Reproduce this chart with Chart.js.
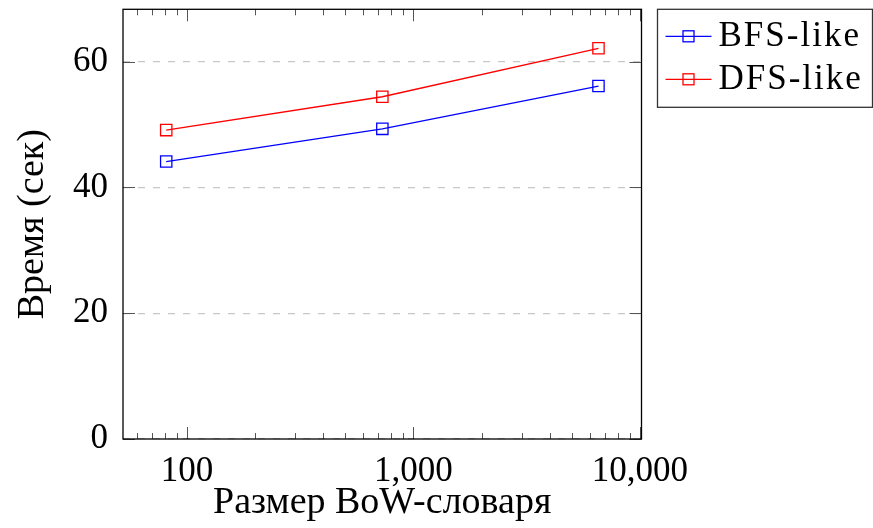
<!DOCTYPE html>
<html>
<head>
<meta charset="utf-8">
<script src="https://cdn.jsdelivr.net/npm/chart.js@4"></script>
<style>body{margin:0;background:#fff}</style>
</head>
<body>
<canvas id="myGraph" width="873" height="528"></canvas>
<script>
// Run time vs BoW vocabulary size

var vocabSizes = [81, 729, 6561];
var bfsTimes = [44.1, 49.3, 56.1];
var dfsTimes = [49.1, 54.4, 62.1];
var seriesNames = ["BFS-like", "DFS-like"];
var seriesColors = ["#0000ff", "#ff0000"];
var xTickValues = [100, 1000, 10000];
var yTickValues = [0, 20, 40, 60];

var graph = document.getElementById("myGraph").getContext("2d");

Chart.defaults.font.family = "'Liberation Serif', 'Times New Roman', serif";
Chart.defaults.font.size = 35;
Chart.defaults.color = "#000";

function toPoints(times) {
  return vocabSizes.map((x, i) => ({ x: x, y: times[i] }));
}

// box frame, inward ticks and a boxed legend on the right
var framePlugin = {
  id: "frame",
  afterDraw: function(chart) {
    var ctx = chart.ctx;
    var a = chart.chartArea;
    var xs = chart.scales.x;
    var ys = chart.scales.y;
    ctx.save();

    ctx.strokeStyle = "#555";
    ctx.lineWidth = 1;
    ctx.beginPath();
    for (var d = 10; d <= 10000; d *= 10) {
      for (var m = 1; m < 10; m++) {
        var v = d * m;
        if (v < xs.min || v > xs.max) continue;
        var len = m === 1 ? 12 : 6;
        var px = Math.round(xs.getPixelForValue(v)) + 0.5;
        ctx.moveTo(px, a.bottom);
        ctx.lineTo(px, a.bottom - len);
        ctx.moveTo(px, a.top);
        ctx.lineTo(px, a.top + len);
      }
    }
    yTickValues.forEach(function(v) {
      var py = Math.round(ys.getPixelForValue(v)) + 0.5;
      ctx.moveTo(a.left, py);
      ctx.lineTo(a.left + 12, py);
      ctx.moveTo(a.right, py);
      ctx.lineTo(a.right - 12, py);
    });
    ctx.stroke();

    ctx.strokeStyle = "#000";
    ctx.lineWidth = 1.3;
    ctx.strokeRect(a.left, a.top, a.right - a.left, a.bottom - a.top);

    // legend
    var lx = a.right + 16;
    var ly = a.top;
    ctx.strokeStyle = "#333";
    ctx.strokeRect(lx, ly, 215, 98);
    ctx.font = "35px 'Liberation Serif', 'Times New Roman', serif";
    ctx.letterSpacing = "2px";
    ctx.textBaseline = "middle";
    ctx.textAlign = "left";
    chart.data.datasets.forEach(function(ds, i) {
      var y = ly + 27 + i * 43;
      ctx.strokeStyle = ds.borderColor;
      ctx.lineWidth = 1.3;
      ctx.beginPath();
      ctx.moveTo(lx + 8, y);
      ctx.lineTo(lx + 54, y);
      ctx.stroke();
      ctx.strokeRect(lx + 31 - 5.5, y - 5.5, 11, 11);
      ctx.fillStyle = "#000";
      ctx.fillText(ds.label, lx + 61, y + 1);
    });

    ctx.restore();
  }
};

function makeDataset(i, times) {
  return {
    label: seriesNames[i],
    data: toPoints(times),
    borderColor: seriesColors[i],
    borderWidth: 1.3,
    pointStyle: "rect",
    pointRadius: 8,
    pointBorderWidth: 1.3,
    pointBorderColor: seriesColors[i],
    pointBackgroundColor: "rgba(0,0,0,0)",
    tension: 0
  };
}

new Chart(graph, {
  type: "line",
  data: {
    datasets: [makeDataset(0, bfsTimes), makeDataset(1, dfsTimes)]
  },
  options: {
    responsive: false,
    animation: false,
    layout: { padding: { top: 9, right: 231.5, bottom: 0, left: 0 } },
    plugins: {
      legend: { display: false },
      tooltip: { enabled: false }
    },
    scales: {
      x: {
        type: "logarithmic",
        min: 52.2,
        max: 10160,
        grid: { display: false },
        border: { display: false },
        afterBuildTicks: function(scale) {
          scale.ticks = xTickValues.map(v => ({ value: v }));
        },
        afterFit: function(scale) {
          scale.height = 89;
          scale.paddingLeft = 0;
          scale.paddingRight = 0;
        },
        ticks: {
          padding: 4,
          maxRotation: 0,
          autoSkip: false,
          callback: function(value) {
            return Number(value).toLocaleString("en-US");
          }
        },
        title: {
          display: true,
          text: "Размер BoW-словаря",
          font: { size: 38 },
          padding: { top: 0, bottom: 2 }
        }
      },
      y: {
        min: 0,
        max: 68.3,
        grid: { color: "#c8c8c8", lineWidth: 1.3, drawTicks: false },
        border: { display: false, dash: [7, 8] },
        afterBuildTicks: function(scale) {
          scale.ticks = yTickValues.map(v => ({ value: v }));
        },
        afterFit: function(scale) {
          scale.width = 123;
          scale.paddingTop = 0;
          scale.paddingBottom = 0;
        },
        ticks: { padding: 15 },
        title: {
          display: true,
          text: "Время (сек)",
          font: { size: 38 },
          padding: { top: 10, bottom: 0 }
        }
      }
    }
  },
  plugins: [framePlugin]
});
</script>
</body>
</html>
